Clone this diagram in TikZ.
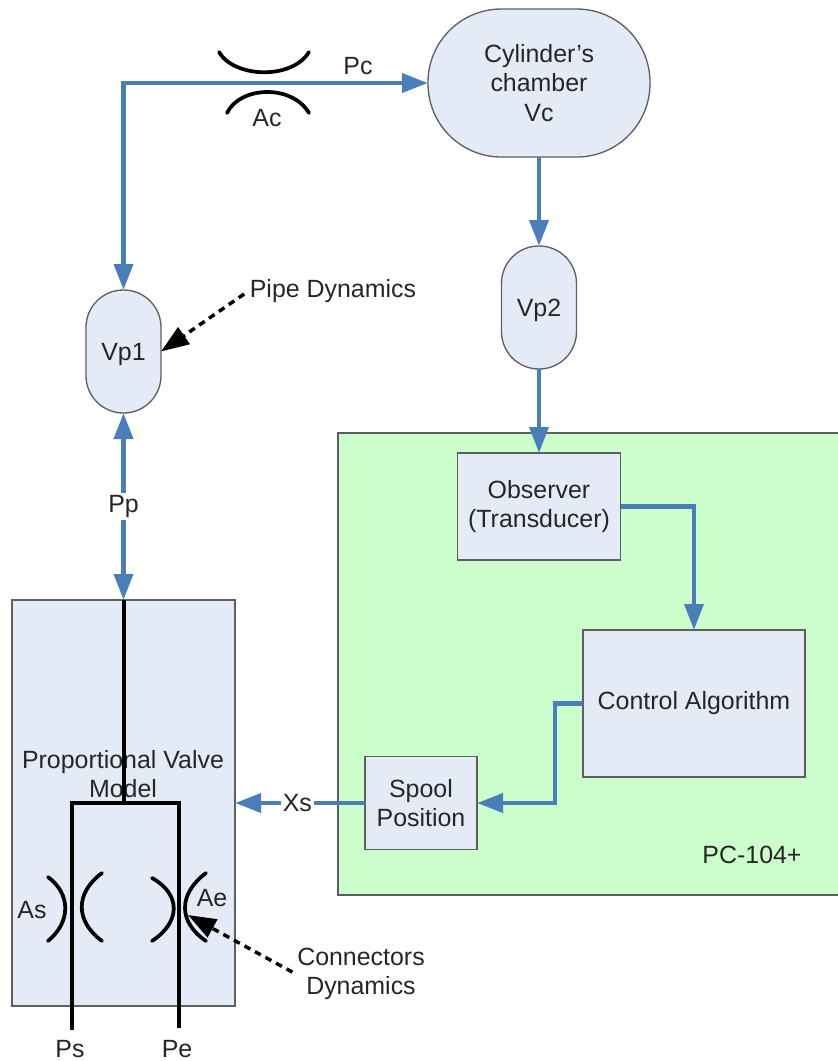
\documentclass[tikz,border=0pt]{standalone}
\usepackage{fontspec}
\setmainfont{Liberation Sans}
\usetikzlibrary{arrows.meta,positioning,calc}
\definecolor{vblue}{HTML}{4A7EBB}
\definecolor{vpale}{HTML}{E4EBF7}
\definecolor{vgreen}{HTML}{CCFFCC}
\definecolor{vedge}{HTML}{5F5F5F}
\definecolor{vtext}{HTML}{262626}
\tikzset{
  every node/.style={font=\fontsize{18.7}{22}\selectfont,text=vtext,align=center,outer sep=0pt,inner sep=1pt},
  blk/.style={draw=vedge,fill=vpale,line width=1pt},
  capsule/.style={blk,rounded corners=28pt,minimum width=56.25pt,minimum height=92.25pt,text depth=0pt},
  pipe/.style={draw=vblue,line width=3.5pt,-{Triangle[length=19.5pt,width=14pt]}},
  dbl/.style={draw=vblue,line width=3.5pt,{Triangle[length=19.5pt,width=14pt]}-{Triangle[length=19.5pt,width=14pt]}},
  hint/.style={draw=black,line width=2.6pt,dash pattern=on 5pt off 4pt,-{Triangle[length=21pt,width=15pt,sep=0pt]}},
  wire/.style={draw=black,line width=3pt},
  orifice/.style={draw=black,line width=2.8pt,line cap=round},
  tag/.style={fill=white,inner sep=1.5pt},
}
\begin{document}
\begin{tikzpicture}[x=0.75pt,y=-0.75pt]
  \useasboundingbox (0,0) rectangle (838,1061);
  % boxes
  \node[draw=vedge,fill=vgreen,line width=1pt,minimum width=375.75pt,minimum height=346.5pt] (pc) at (588.5,664) {};
  \node[blk,minimum width=167.25pt,minimum height=304.5pt] (valve) at (123.5,803) {};
  \node[blk,rounded corners=55pt,minimum width=166.5pt,minimum height=111pt] (chamber) at (539,83) {Cylinder's\\chamber\\Vc};
  \node[capsule] (vp1) at (123.5,351.5) {Vp1};
  \node[capsule] (vp2) at (539,307.5) {Vp2};
  \node[blk,minimum width=122.25pt,minimum height=80.25pt] (observer) at (539,506.5) {Observer\\(Transducer)};
  \node[blk,minimum width=166.5pt,minimum height=110.25pt] (control) at (694,703.5) {Control Algorithm};
  \node[blk,minimum width=84pt,minimum height=69.75pt] (spool) at (421,803) {Spool\\Position};
  \node (valvename) at (123,774) {Proportional Valve\\Model};
  % plain labels
  \foreach \n/\x/\y/\t in {lpc/358/66/Pc,lac/267/118/Ac,las/32/910/As,lae/212/898/Ae,lps/70/1049/Ps,lpe/177/1049/Pe,lpcb/752/855/PC-104+}
    \node (\n) at (\x,\y) {\t};
  \node (pipedyn) at (333,291) {Pipe Dynamics};
  \node (conndyn) at (361,974) {Connectors\\Dynamics};
  % valve wiring
  \coordinate (tee) at (123.5,803);
  \coordinate (ps) at (72,1028);
  \coordinate (pe) at (179,1026);
  \draw[wire] (valve.north) -- (tee);
  \draw[wire,line cap=rect] (ps) |- (tee) -| (pe);
  % orifices
  \foreach \xa/\xb/\xc/\ya/\yb/\yc in {48/71/48/877/908/941,102/75/102/873/907/941,152/181/152/878/908/941,206/178/206/873/908/941}
    \draw[orifice] (\xa,\ya) .. controls (\xb,{\yb-14}) and (\xb,{\yb+14}) .. (\xc,\yc);
  \draw[orifice] (219,52) .. controls (234,78) and (292,80) .. (309,52);
  \draw[orifice] (227,113) .. controls (240,86) and (292,84) .. (309,113);
  % flows
  \draw[dbl] (chamber.west) -| (vp1.north);
  \draw[pipe] (chamber.south) -- (vp2.north);
  \draw[pipe] (vp2.south) -- (observer.north);
  \draw[pipe] (observer.east) -| (control.north);
  \draw[pipe] (control.west) -- ++(-28,0) |- (spool.east);
  \draw[dbl] (vp1.south) -- node[tag] (lpp) {Pp} (valve.north);
  \draw[pipe] (spool.west) -- node[tag,pos=0.52] (lxs) {Xs} (valve.east);
  % hints
  \coordinate (aehit) at (188,915);
  \draw[hint,shorten <=4pt] (pipedyn.west) -- (vp1.east);
  \draw[hint,shorten <=3pt] (conndyn.west) -- (aehit);
\end{tikzpicture}
\end{document}
